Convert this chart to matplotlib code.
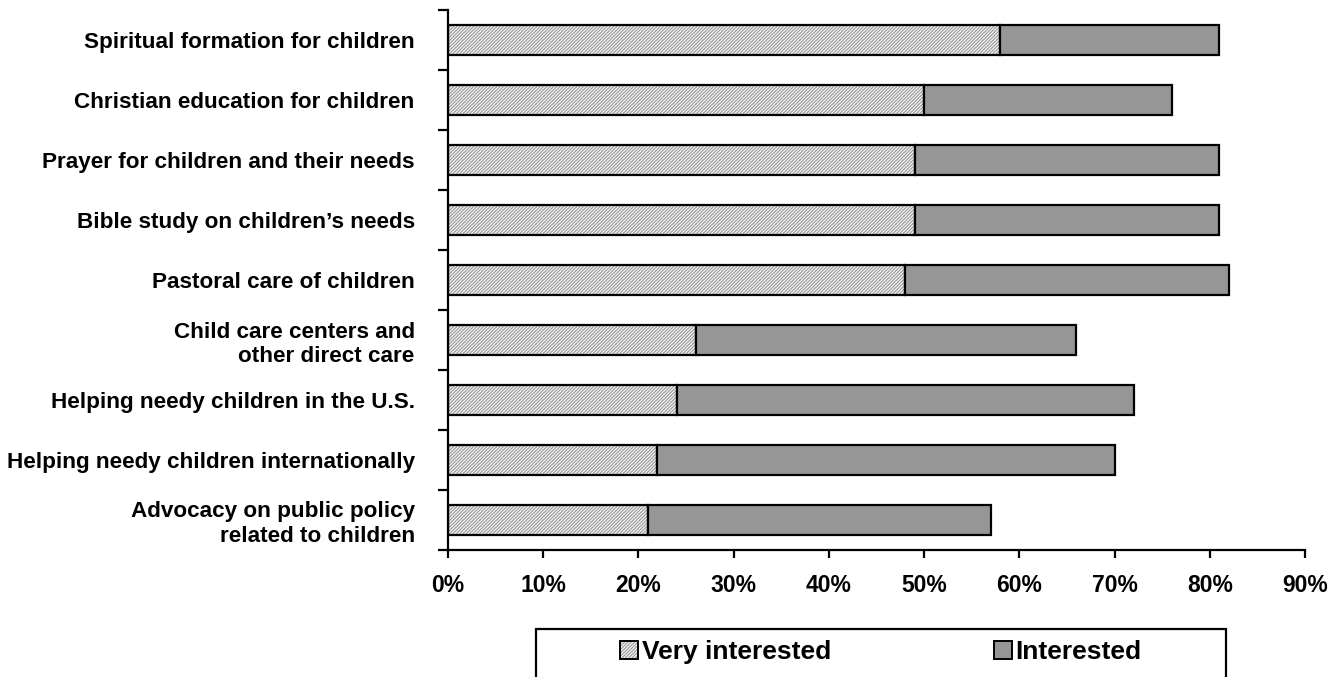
import matplotlib
matplotlib.use("Agg")
import matplotlib.pyplot as plt
from matplotlib.patches import Patch, Rectangle
from matplotlib.legend_handler import HandlerTuple
from matplotlib.ticker import FixedLocator, FuncFormatter
import numpy as np

categories = [
    "Spiritual formation for children",
    "Christian education for children",
    "Prayer for children and their needs",
    "Bible study on children\u2019s needs",
    "Pastoral care of children",
    "Child care centers and\nother direct care",
    "Helping needy children in the U.S.",
    "Helping needy children internationally",
    "Advocacy on public policy\nrelated to children",
]
very_interested = [58, 50, 49, 49, 48, 26, 24, 22, 21]
interested = [23, 26, 32, 32, 34, 40, 48, 48, 36]
series_names = ["Very interested", "Interested"]
xticks = [0, 10, 20, 30, 40, 50, 60, 70, 80, 90]

plt.rcParams['font.family'] = ['Liberation Sans', 'DejaVu Sans']
plt.rcParams['font.weight'] = 'bold'
plt.rcParams['hatch.linewidth'] = 0.7

fig = plt.figure(figsize=(13.42, 6.77), dpi=100)
ax = fig.add_axes([448/1342, 1-550/677, (1305-448)/1342, 540/677])

y = np.arange(len(categories))
vi = np.array(very_interested)
it = np.array(interested)
h = 0.5
hatch_col = '#8f8f8f'
hatch = '/' * 10
# hatched fill
ax.barh(y, vi, height=h, color='#f2f2f2', edgecolor=hatch_col, hatch=hatch, linewidth=0, zorder=2)
# outline
ax.barh(y, vi, height=h, fill=False, edgecolor='black', linewidth=1.6, zorder=3)
ax.barh(y, it, left=vi, height=h, color='#969696', edgecolor='black', linewidth=1.6, zorder=3)

ax.set_xlim(0, 90)
ax.set_ylim(len(categories) - 0.5, -0.5)
ax.set_xticks(xticks)
ax.xaxis.set_major_formatter(FuncFormatter(lambda v, p: f"{int(v)}%"))
ax.set_yticks(y)
ax.set_yticklabels(categories, ha='right', multialignment='right')
ax.yaxis.set_minor_locator(FixedLocator(np.arange(-0.5, len(categories), 1.0)))
ax.tick_params(axis='y', which='major', length=0, pad=24, labelsize=16.2)
ax.tick_params(axis='y', which='minor', length=7, width=1.6, direction='out')
ax.tick_params(axis='x', which='major', length=6, width=1.6, direction='out', pad=11, labelsize=16.5)
for lab in ax.get_xticklabels() + ax.get_yticklabels():
    lab.set_fontweight('bold')

for s in ['top', 'right']:
    ax.spines[s].set_visible(False)
for s in ['left', 'bottom']:
    ax.spines[s].set_linewidth(1.6)

# legend
h1 = (Patch(facecolor='#f2f2f2', edgecolor=hatch_col, hatch=hatch, linewidth=0),
      Patch(fill=False, edgecolor='black', linewidth=1.4))
h2 = Patch(facecolor='#969696', edgecolor='black', linewidth=1.4)
fig.patches.append(Rectangle((536/1342, -0.05), (1226-536)/1342, 0.05 + 1-629/677,
                             transform=fig.transFigure, fill=False, edgecolor='black',
                             linewidth=1.6, figure=fig))
leg = fig.legend([h1, h2], series_names, handler_map={tuple: HandlerTuple(ndivide=1, pad=0)},
                 loc='center', bbox_to_anchor=(881/1342, 1-652/677), ncol=2, frameon=False,
                 prop={'size': 19, 'weight': 'bold'}, handlelength=0.65, handleheight=0.65,
                 handletextpad=0.15, columnspacing=6.2, borderaxespad=0, borderpad=0)

fig.savefig("out.png", dpi=100)
